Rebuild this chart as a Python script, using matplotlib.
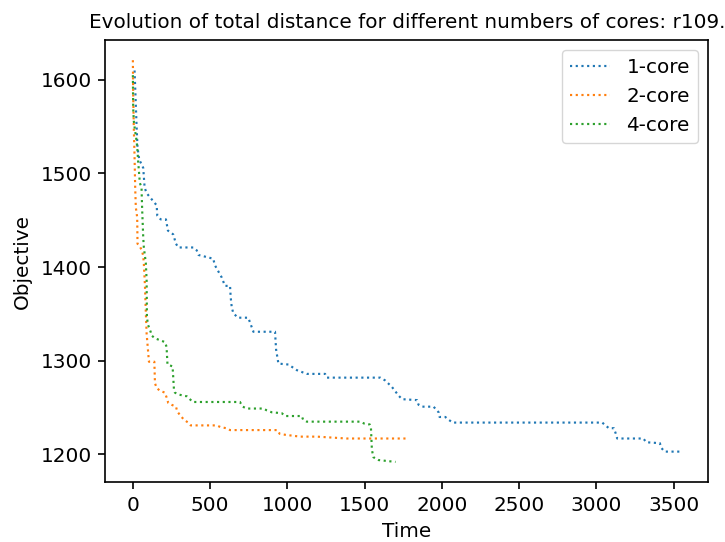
import matplotlib
matplotlib.use("Agg")
import matplotlib.pyplot as plt

# 1-core run: (time, objective)
time_1core = [11, 24, 30, 41, 67, 76, 89, 154, 158, 180, 214, 227, 261, 279, 294, 391, 413,
              425, 520, 531, 575, 596, 629, 633, 640, 650, 679, 747, 780, 920, 927, 942, 1007,
              1061, 1126, 1244, 1255, 1601, 1633, 1677, 1719, 1742, 1839, 1849, 1871, 1946,
              1979, 1985, 2022, 2044, 2070, 3038, 3059, 3081, 3113, 3124, 3135, 3304, 3323,
              3411, 3420, 3442, 3545]
obj_1core = [1610, 1551, 1528, 1515, 1506, 1485, 1479, 1466, 1455, 1451, 1451, 1439, 1435,
             1425, 1421, 1421, 1418, 1413, 1409, 1402, 1389, 1380, 1380, 1368, 1357, 1351,
             1346, 1346, 1331, 1331, 1312, 1297, 1296, 1290, 1286, 1286, 1282, 1282, 1279,
             1272, 1263, 1259, 1258, 1253, 1251, 1251, 1245, 1240, 1240, 1237, 1234, 1234,
             1231, 1228, 1228, 1223, 1217, 1217, 1213, 1212, 1207, 1203, 1203]

# 2-core run
time_2core = [0, 2, 6, 11, 15, 19, 28, 30, 45, 58, 67, 71, 78, 84, 89, 104, 139, 143, 154,
              175, 207, 218, 229, 251, 279, 287, 305, 331, 358, 374, 542, 570, 606, 629, 935,
              950, 985, 1082, 1191, 1385, 1778]
obj_2core = [1621, 1584, 1549, 1517, 1485, 1464, 1453, 1425, 1422, 1418, 1412, 1404, 1381,
             1351, 1329, 1299, 1299, 1276, 1271, 1268, 1266, 1261, 1255, 1253, 1251, 1246,
             1242, 1237, 1234, 1231, 1231, 1229, 1228, 1226, 1226, 1222, 1221, 1219, 1219,
             1217, 1217]

# 4-core run
time_4core = [0, 2, 6, 13, 24, 30, 34, 39, 45, 56, 60, 67, 71, 78, 84, 89, 91, 99, 115, 121,
              143, 175, 207, 218, 224, 257, 266, 272, 295, 350, 369, 387, 693, 711, 737, 845,
              867, 899, 964, 985, 1093, 1102, 1126, 1471, 1497, 1533, 1541, 1547, 1557, 1590,
              1700]
obj_4core = [1605, 1570, 1556, 1547, 1535, 1524, 1513, 1503, 1490, 1485, 1462, 1432, 1421,
             1412, 1404, 1386, 1346, 1338, 1331, 1327, 1324, 1322, 1320, 1315, 1296, 1294,
             1269, 1266, 1264, 1262, 1259, 1256, 1256, 1251, 1249, 1249, 1247, 1245, 1244,
             1241, 1241, 1237, 1235, 1235, 1233, 1232, 1228, 1205, 1197, 1194, 1192]

runs = [("1-core", time_1core, obj_1core),
        ("2-core", time_2core, obj_2core),
        ("4-core", time_4core, obj_4core)]

fs = 14.4
plt.rcParams.update({
    "font.size": fs,
    "axes.linewidth": 1.2,
    "xtick.major.size": 5,
    "ytick.major.size": 5,
    "xtick.major.width": 1.2,
    "ytick.major.width": 1.2,
    "xtick.major.pad": 4.9,
    "ytick.major.pad": 4.9,
})

fig = plt.figure(figsize=(7.25, 5.42), dpi=100)
ax = fig.add_axes([0.1455, 0.1107, 0.831, 0.8153])

for name, t, v in runs:
    ax.plot(t, v, linestyle=":", linewidth=1.55, label=name)

ax.set_xlabel("Time", fontsize=fs, labelpad=5.5)
ax.set_ylabel("Objective", fontsize=fs, labelpad=6)
ax.set_title("Evolution of total distance for different numbers of cores: r109.",
             fontsize=fs, pad=9)
ax.set_xticks([0, 500, 1000, 1500, 2000, 2500, 3000, 3500])
ax.set_yticks([1200, 1300, 1400, 1500, 1600])
ax.legend(loc="upper right", fontsize=fs)

fig.savefig("out.png", dpi=100)
